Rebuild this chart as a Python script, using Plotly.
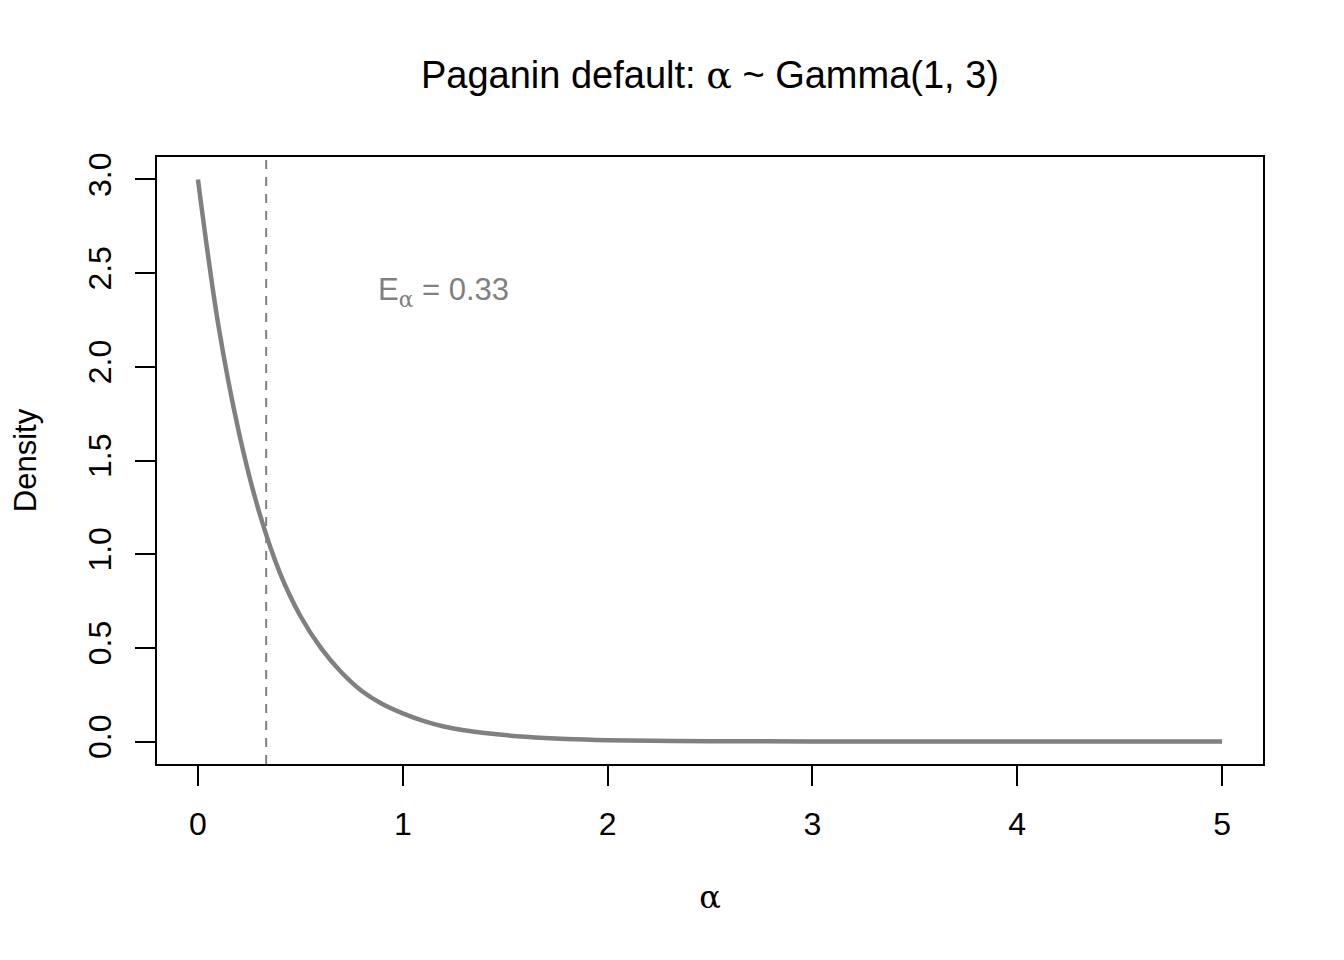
import plotly.graph_objects as go

# density curve
alpha = [0, 0.1, 0.2, 0.3, 0.4, 0.5, 0.6, 0.7, 0.8, 0.9, 1.0, 1.1, 1.2, 1.3, 1.4,
         1.6, 1.8, 2.0, 2.5, 3.0, 3.5, 4.0, 4.5, 5.0]
density = [3.0, 2.22, 1.65, 1.22, 0.90, 0.67, 0.50, 0.37, 0.27, 0.20, 0.15, 0.11,
           0.08, 0.06, 0.045, 0.025, 0.013, 0.007, 0.002, 0.0004, 0.0001, 0.0, 0.0, 0.0]
mean_alpha = 0.333
label_pos = (1.2, 2.4)

x_ticks = [0, 1, 2, 3, 4, 5]
y_ticks = [0.0, 0.5, 1.0, 1.5, 2.0, 2.5, 3.0]
y_ticktext = ["0.0", "0.5", "1.0", "1.5", "2.0", "2.5", "3.0"]

grey = "#808080"
font = "Liberation Sans, Arial, Helvetica, sans-serif"
serif = "DejaVu Serif, serif"
serif_span = '<span style="font-family:DejaVu Serif">α</span>'

fig = go.Figure()
fig.add_trace(go.Scatter(x=alpha, y=density, mode="lines",
                         line=dict(color=grey, width=4.5, shape="spline"),
                         showlegend=False, hoverinfo="skip"))

fig.add_shape(type="line", x0=mean_alpha, x1=mean_alpha, y0=0, y1=1,
              xref="x", yref="paper",
              line=dict(color=grey, width=2, dash="9px,8px"))

fig.add_annotation(x=label_pos[0], y=label_pos[1], xref="x", yref="y",
                   text="E<sub>" + serif_span + "</sub> = 0.33", showarrow=False,
                   font=dict(family=font, size=31, color=grey))

# page body has an 8px margin, so the figure is 8px smaller and margins shifted
fig.update_layout(
    width=1336, height=952,
    margin=dict(l=149, r=81, t=149, b=196),
    plot_bgcolor="white", paper_bgcolor="white",
    font=dict(family=font, size=32, color="black"),
    title=dict(text="Paganin default: " + serif_span + " ~ Gamma(1, 3)",
               x=0.5, xref="paper", xanchor="center", y=1 - 67 / 952, yanchor="middle",
               font=dict(size=38)),
    xaxis=dict(range=[-0.2, 5.2], tickvals=x_ticks, ticks="outside", ticklen=20,
               tickwidth=2, tickcolor="black", showline=True, linecolor="black",
               linewidth=2, mirror=True, showgrid=False, zeroline=False,
               ticklabelstandoff=11,
               title=dict(text="α", font=dict(family=serif, size=32), standoff=44)),
    yaxis=dict(range=[-0.12, 3.12], tickvals=y_ticks, ticktext=y_ticktext,
               ticks="outside", ticklen=20, tickwidth=2, tickcolor="black",
               showline=True, linecolor="black", linewidth=2, mirror=True,
               showgrid=False, zeroline=False, tickangle=-90, ticklabelstandoff=11,
               title=dict(text="Density", font=dict(size=31), standoff=42)),
)

fig.write_html("out.html")
